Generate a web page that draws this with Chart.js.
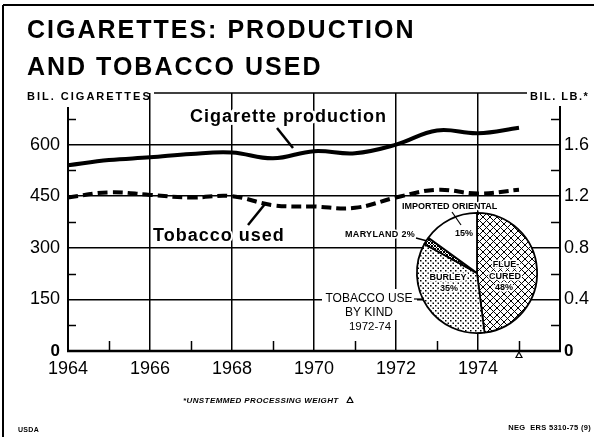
<!DOCTYPE html>
<html lang="en">

<head>
  <meta charset="UTF-8" />
  <title>Cigarettes: Production and Tobacco Used</title>
  <script src="https://cdn.jsdelivr.net/npm/chart.js"></script>
  <style>
    body { margin: 0; background: #fff; }
    #wrap { position: relative; width: 594px; height: 437px; overflow: hidden; }
    #wrap canvas { position: absolute; left: 0; top: 0; }
  </style>
</head>

<body>
  <div id="wrap">
    <canvas id="mainChart" width="594" height="437"></canvas>
    <canvas id="pieChart" width="594" height="437"></canvas>
  </div>

  <script>
    /* values */
    const years = [1964, 1965, 1966, 1967, 1968, 1969, 1970, 1971, 1972, 1973, 1974, 1975];
    // bil. cigarettes
    const production = [540, 555, 563, 573, 577, 560, 581, 575, 600, 641, 633, 649];
    // bil. lb. (unstemmed processing weight)
    const tobaccoUsed = [1.19, 1.23, 1.21, 1.19, 1.20, 1.13, 1.12, 1.11, 1.19, 1.25, 1.22, 1.25];

    // tobacco use by kind, 1972-74 (percent)
    const kinds = ["Flue-cured", "Burley", "Maryland", "Imported oriental"];
    const kindShares = [48, 35, 2, 15];

    // tick labels
    const yearLabels = [1964, 1966, 1968, 1970, 1972, 1974];
    const leftLabels = [0, 150, 300, 450, 600];
    const rightLabels = [0, 0.4, 0.8, 1.2, 1.6];

    const FONT = "'Liberation Sans', Arial, sans-serif";
    Chart.defaults.font.family = FONT;
    Chart.defaults.color = "#000";

    function line(ctx, x1, y1, x2, y2, w) {
      ctx.strokeStyle = "#000";
      ctx.lineWidth = w;
      ctx.beginPath();
      ctx.moveTo(x1, y1);
      ctx.lineTo(x2, y2);
      ctx.stroke();
    }

    // small outlined triangle (the footnote mark)
    function triangle(ctx, x, y) {
      ctx.strokeStyle = "#000";
      ctx.lineWidth = 1.2;
      ctx.beginPath();
      ctx.moveTo(x, y);
      ctx.lineTo(x + 3, y + 5.5);
      ctx.lineTo(x - 3, y + 5.5);
      ctx.closePath();
      ctx.stroke();
    }

    // text with a white halo so grid lines stop short of the letters
    function haloText(ctx, str, x, y, font, spacing, halo) {
      ctx.font = font;
      ctx.letterSpacing = (spacing || 0) + "px";
      if (halo) {
        ctx.lineJoin = "round";
        ctx.strokeStyle = "#fff";
        ctx.lineWidth = halo;
        ctx.strokeText(str, x, y);
      }
      ctx.fillStyle = "#000";
      ctx.fillText(str, x, y);
      ctx.letterSpacing = "0px";
    }

    /* frame, minor ticks, titles and labels */
    const framePlugin = {
      id: "frame",
      afterDraw(chart) {
        const { ctx, chartArea: a, scales } = chart;
        const x = scales.x, y = scales.y, y2 = scales.y2;
        ctx.save();

        // page border
        line(ctx, 3, 437, 3, 5, 2);
        line(ctx, 3, 5, 594, 5, 2);

        // axes
        line(ctx, a.left, a.top + 14, a.left, a.bottom, 2);
        line(ctx, a.right, a.top + 13, a.right, a.bottom, 2);
        line(ctx, a.left - 1, a.bottom, a.right + 1, a.bottom, 2.5);
        line(ctx, 154, a.top, 527, a.top, 1.5);

        // minor ticks
        for (let v = 75; v < 750; v += 150) {
          const py = Math.round(y.getPixelForValue(v)) + 0.5;
          line(ctx, a.left, py, a.left + 8, py, 1.5);
        }
        for (let v = 0.2; v < 2; v += 0.4) {
          const py = Math.round(y2.getPixelForValue(v)) + 0.5;
          line(ctx, a.right - 9, py, a.right, py, 1.5);
        }
        for (let yr = 1965; yr < 1976; yr += 2) {
          const px = Math.round(x.getPixelForValue(yr)) + 0.5;
          line(ctx, px, a.bottom - 10, px, a.bottom, 1.5);
        }

        // triangle marker under 1975
        triangle(ctx, x.getPixelForValue(1975), a.bottom + 1);

        // title
        ctx.textBaseline = "alphabetic";
        ctx.textAlign = "left";
        haloText(ctx, "CIGARETTES: PRODUCTION", 27, 38, "bold 25px " + FONT, 2);
        haloText(ctx, "AND TOBACCO USED", 27, 75, "bold 25px " + FONT, 2);

        // axis titles
        haloText(ctx, "BIL. CIGARETTES", 27, 100, "bold 11px " + FONT, 2);
        haloText(ctx, "BIL. LB.*", 530, 100, "bold 11px " + FONT, 1.5);

        // series labels and leaders
        line(ctx, 277, 128, 293, 148, 2.5);
        line(ctx, 248, 225, 265, 204, 2.5);
        haloText(ctx, "Cigarette production", 190, 122, "bold 18px " + FONT, 1, 6);
        haloText(ctx, "Tobacco used", 153, 241, "bold 18px " + FONT, 1, 4);

        // footnotes
        haloText(ctx, "*UNSTEMMED PROCESSING WEIGHT", 183, 403, "italic bold 8px " + FONT, 0.4);
        triangle(ctx, 350, 397);
        haloText(ctx, "USDA", 18, 432, "bold 7px " + FONT, 0.3);
        ctx.textAlign = "right";
        haloText(ctx, "NEG  ERS 5310-75 (9)", 591, 430, "bold 7.5px " + FONT, 0.3);
        ctx.restore();
      }
    };

    new Chart(document.getElementById("mainChart"), {
      type: "line",
      data: {
        datasets: [
          {
            label: "Cigarette production",
            data: years.map((yr, i) => ({ x: yr, y: production[i] })),
            yAxisID: "y",
            borderColor: "#000",
            borderWidth: 4,
            pointRadius: 0,
            tension: 0.4,
            fill: false,
          },
          {
            label: "Tobacco used",
            data: years.map((yr, i) => ({ x: yr, y: tobaccoUsed[i] })),
            yAxisID: "y2",
            borderColor: "#000",
            borderWidth: 4,
            borderDash: [10, 5],
            pointRadius: 0,
            tension: 0.4,
            fill: false,
          },
        ],
      },
      options: {
        responsive: false,
        animation: false,
        events: [],
        layout: { padding: { top: 93, left: 0, right: 0, bottom: 0 } },
        plugins: { legend: { display: false }, tooltip: { enabled: false } },
        scales: {
          x: {
            type: "linear",
            min: 1964,
            max: 1976,
            afterFit: (s) => { s.height = 86; },
            border: { display: false },
            grid: {
              drawTicks: false,
              lineWidth: 1.5,
              color: (c) => (c.tick && c.tick.value > 1964 && c.tick.value < 1976 ? "#000" : "rgba(0,0,0,0)"),
            },
            ticks: {
              stepSize: 2,
              autoSkip: false,
              maxRotation: 0,
              padding: 7,
              font: { size: 18 },
              callback: (v) => (yearLabels.includes(v) ? String(v) : ""),
            },
          },
          y: {
            position: "left",
            min: 0,
            max: 750,
            afterFit: (s) => { s.width = 68; },
            border: { display: false },
            grid: {
              drawTicks: false,
              lineWidth: 1.5,
              color: (c) => (c.tick && c.tick.value > 0 && c.tick.value < 750 ? "#000" : "rgba(0,0,0,0)"),
            },
            ticks: {
              stepSize: 150,
              autoSkip: false,
              padding: 8,
              font: (c) => (c.tick && c.tick.value === 0 ? { size: 17, weight: "bold" } : { size: 18 }),
              callback: (v) => (leftLabels.includes(v) ? String(v) : ""),
            },
          },
          y2: {
            position: "right",
            min: 0,
            max: 2,
            afterFit: (s) => { s.width = 34; },
            border: { display: false },
            grid: { display: false, drawTicks: false },
            ticks: {
              stepSize: 0.4,
              autoSkip: false,
              padding: 4,
              font: (c) => (c.tick && c.tick.value === 0 ? { size: 17, weight: "bold" } : { size: 18 }),
              callback: (v) => {
                const r = Math.round(v * 10) / 10;
                if (!rightLabels.includes(r)) return "";
                return r === 0 ? "0" : r.toFixed(1);
              },
            },
          },
        },
      },
      plugins: [framePlugin],
    });

    /* fill patterns for the pie */
    function makePattern(size, draw) {
      const c = document.createElement("canvas");
      c.width = size;
      c.height = size;
      const g = c.getContext("2d");
      g.fillStyle = "#fff";
      g.fillRect(0, 0, size, size);
      g.strokeStyle = "#000";
      g.fillStyle = "#000";
      draw(g, size);
      return g.createPattern(c, "repeat");
    }
    const hatch = (w) => (g, s) => {
      g.lineWidth = w;
      g.beginPath();
      g.moveTo(-1, -1); g.lineTo(s + 1, s + 1);
      g.moveTo(-1, s + 1); g.lineTo(s + 1, -1);
      g.stroke();
    };
    const pctx = document.getElementById("pieChart").getContext("2d");
    const fills = [
      makePattern(7, hatch(1)),
      makePattern(5, (g) => { g.fillRect(0, 0, 1.5, 1.5); g.fillRect(2.5, 2.5, 1.5, 1.5); }),
      makePattern(3, hatch(1)),
      "#fff",
    ];

    /* labels on and around the pie */
    const pieLabelPlugin = {
      id: "pieLabels",
      afterDraw(chart) {
        const ctx = chart.ctx;
        const arcs = chart.getDatasetMeta(0).data;
        const cx = arcs[0].x, cy = arcs[0].y, r = arcs[0].outerRadius;
        ctx.save();
        ctx.textBaseline = "middle";

        // "TOBACCO USE BY KIND" block, knocked out of the grid
        ctx.fillStyle = "#fff";
        ctx.fillRect(322, 289, 95, 31);
        ctx.textAlign = "center";
        haloText(ctx, "TOBACCO USE", 369, 299, "12px " + FONT, 0, 3);
        haloText(ctx, "BY KIND", 369, 313, "12px " + FONT, 0, 3);
        haloText(ctx, "1972-74", 370, 327, "11.5px " + FONT, 0, 3);
        const dy = 299 - cy;
        line(ctx, 414, 299, cx - Math.sqrt(r * r - dy * dy), 299, 1.2);

        // leader for Maryland
        const m = arcs[2];
        const mid = (m.startAngle + m.endAngle) / 2;
        line(ctx, 416, 238, cx + r * Math.cos(mid), cy + r * Math.sin(mid), 1.5);
        ctx.textAlign = "right";
        haloText(ctx, "MARYLAND 2%", 415, 235, "bold 9px " + FONT, 0.3, 3);

        // leader for imported oriental
        line(ctx, 452, 212, 461, 225, 1.2);
        ctx.textAlign = "left";
        haloText(ctx, "IMPORTED ORIENTAL", 402, 207, "bold 9px " + FONT, 0, 3);

        // slice labels
        ctx.textAlign = "center";
        const f = "bold 9px " + FONT;
        haloText(ctx, "15%", 464, 234, f, 0, 3);
        haloText(ctx, "FLUE-", 506, 265, f, 0, 3);
        haloText(ctx, "CURED", 505, 277, f, 0, 3);
        haloText(ctx, "48%", 504, 288, f, 0, 3);
        haloText(ctx, "BURLEY", 448, 278, f, 0, 3);
        haloText(ctx, "35%", 449, 289, f, 0, 3);
        ctx.restore();
      }
    };

    new Chart(pctx, {
      type: "pie",
      data: {
        labels: kinds,
        datasets: [
          {
            data: kindShares,
            backgroundColor: fills,
            borderColor: "#000",
            borderWidth: 1.8,
          },
        ],
      },
      options: {
        responsive: false,
        animation: false,
        events: [],
        layout: { padding: { left: 416, right: 56, top: 212, bottom: 103 } },
        plugins: { legend: { display: false }, tooltip: { enabled: false } },
      },
      plugins: [pieLabelPlugin],
    });
  </script>
</body>

</html>
